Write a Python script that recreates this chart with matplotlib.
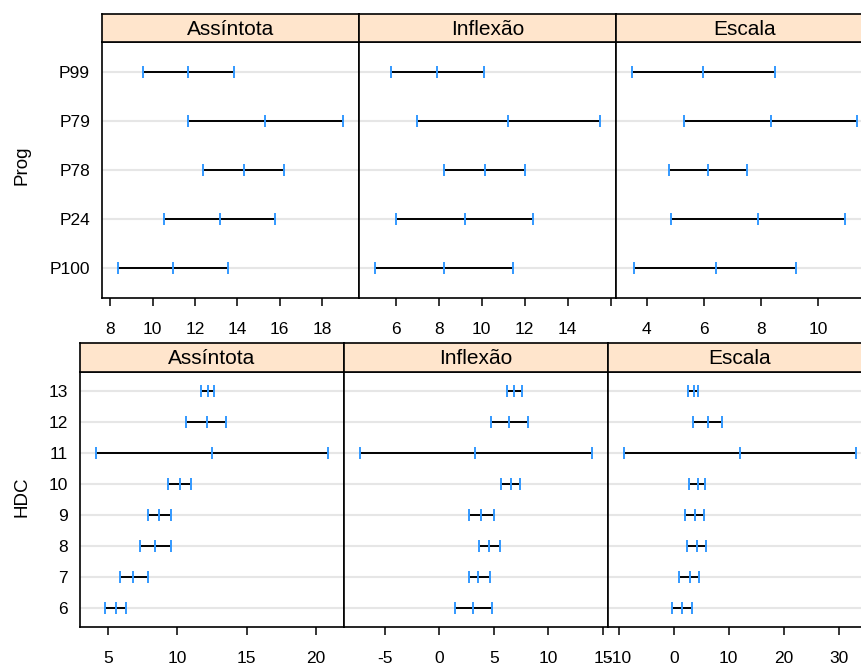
import matplotlib
matplotlib.use("Agg")
import matplotlib.pyplot as plt

plt.rcParams["font.family"] = ["Liberation Sans", "DejaVu Sans"]
plt.rcParams["axes.unicode_minus"] = False

# ---- data -------------------------------------------------------------
params = ["Assíntota", "Inflexão", "Escala"]

# Prog levels, bottom to top
prog_levels = ["P100", "P24", "P78", "P79", "P99"]
prog_asym_lo = [8.36, 10.53, 12.37, 11.68, 9.54]
prog_asym_est = [10.96, 13.16, 14.29, 15.30, 11.68]
prog_asym_hi = [13.57, 15.77, 16.18, 18.99, 13.83]
prog_infl_lo = [5.03, 6.03, 8.24, 7.00, 5.77]
prog_infl_est = [8.24, 9.23, 10.14, 11.25, 7.93]
prog_infl_hi = [11.46, 12.37, 12.00, 15.52, 10.09]
prog_scal_lo = [3.56, 4.86, 4.78, 5.31, 3.47]
prog_scal_est = [6.41, 7.89, 6.15, 8.34, 5.95]
prog_scal_hi = [9.23, 10.93, 7.52, 11.37, 8.50]

# HDC levels, bottom to top
hdc_levels = ["6", "7", "8", "9", "10", "11", "12", "13"]
hdc_asym_lo = [4.76, 5.84, 7.30, 7.85, 9.32, 4.14, 10.59, 11.67]
hdc_asym_est = [5.57, 6.82, 8.41, 8.64, 10.16, 12.49, 12.10, 12.20]
hdc_asym_hi = [6.32, 7.85, 9.56, 9.56, 10.98, 20.84, 13.52, 12.63]
hdc_infl_lo = [1.43, 2.69, 3.63, 2.72, 5.65, -7.23, 4.79, 6.17]
hdc_infl_est = [3.08, 3.57, 4.61, 3.85, 6.56, 3.30, 6.44, 6.90]
hdc_infl_hi = [4.82, 4.64, 5.59, 5.04, 7.36, 13.98, 8.18, 7.63]
hdc_scal_lo = [-0.24, 1.03, 2.36, 2.07, 2.85, -9.00, 3.58, 2.54]
hdc_scal_est = [1.45, 2.90, 4.17, 3.88, 4.36, 12.05, 6.17, 3.63]
hdc_scal_hi = [3.34, 4.61, 5.93, 5.45, 5.75, 33.10, 8.84, 4.48]

# x tick values and labels per panel
prog_xticks = [[8, 10, 12, 14, 16, 18], [6, 8, 10, 12, 14, 16], [4, 6, 8, 10]]
prog_xticklabels = [["8", "10", "12", "14", "16", "18"],
                    ["6", "8", "10", "12", "14", ""],
                    ["4", "6", "8", "10"]]
hdc_xticks = [[5, 10, 15, 20], [-5, 0, 5, 10, 15], [-10, 0, 10, 20, 30]]
hdc_xticklabels = [["5", "10", "15", "20"],
                   ["-5", "0", "5", "10", "15"],
                   ["-10", "0", "10", "20", "30"]]

# ---- figure -----------------------------------------------------------
W, H = 861, 668
DPI = 100
fig = plt.figure(figsize=(W / DPI, H / DPI), dpi=DPI)
fig.patch.set_facecolor("white")

BLUE = "#3399ff"
GRID = "#e6e6e6"
STRIP = "#ffe5cc"
FRAME_LW = 1.2
TICK_FS = 12.5
STRIP_FS = 15
LABEL_FS = 13.5


def px_axes(x0, y0, x1, y1):
    return fig.add_axes([x0 / W, 1 - y1 / H, (x1 - x0) / W, (y1 - y0) / H])


def draw_row(levels, series, xticks, xticklabels, lefts, y_strip, y_top, y_bot,
             ylabel, ylabel_y):
    ypos = list(range(1, len(levels) + 1))
    for k, (lo, est, hi) in enumerate(series):
        x0, x1 = lefts[k], lefts[k + 1]
        ax = px_axes(x0, y_top, x1, y_bot)
        for y in ypos:
            ax.axhline(y, color=GRID, lw=1.5, zorder=0)
        ax.hlines(ypos, lo, hi, color="black", lw=1.4, zorder=2)
        for vals in (lo, est, hi):
            ax.plot(vals, ypos, ls="none", marker="|", ms=9, mew=1.4,
                    color=BLUE, zorder=3)
        vmin, vmax = min(lo), max(hi)
        pad = 0.07 * (vmax - vmin)
        ax.set_xlim(vmin - pad, vmax + pad)
        ax.set_ylim(0.4, len(levels) + 0.6)
        ax.set_xticks(xticks[k])
        ax.set_xticklabels(xticklabels[k])
        ax.tick_params(axis="x", direction="out", length=6, width=1.1,
                       labelsize=TICK_FS, pad=11.5, colors="black")
        if k == 0:
            ax.set_yticks(ypos)
            ax.set_yticklabels(levels)
            ax.tick_params(axis="y", length=0, labelsize=TICK_FS, pad=8.6)
        else:
            ax.set_yticks([])
        for sp in ax.spines.values():
            sp.set_linewidth(FRAME_LW)
            sp.set_color("black")

        sax = px_axes(x0, y_strip, x1, y_top)
        sax.set_facecolor(STRIP)
        sax.set_xticks([])
        sax.set_yticks([])
        for sp in sax.spines.values():
            sp.set_linewidth(FRAME_LW)
            sp.set_color("black")
        sax.text(0.5, 0.45, params[k], ha="center", va="center",
                 fontsize=STRIP_FS, transform=sax.transAxes)

    fig.text(22 / W, 1 - ylabel_y / H, ylabel, rotation=90, ha="center",
             va="center", fontsize=LABEL_FS)


draw_row(prog_levels,
         [(prog_asym_lo, prog_asym_est, prog_asym_hi),
          (prog_infl_lo, prog_infl_est, prog_infl_hi),
          (prog_scal_lo, prog_scal_est, prog_scal_hi)],
         prog_xticks, prog_xticklabels,
         [102, 359, 616, 873], 14, 42, 298, "Prog", 165)

draw_row(hdc_levels,
         [(hdc_asym_lo, hdc_asym_est, hdc_asym_hi),
          (hdc_infl_lo, hdc_infl_est, hdc_infl_hi),
          (hdc_scal_lo, hdc_scal_est, hdc_scal_hi)],
         hdc_xticks, hdc_xticklabels,
         [80, 344, 608, 872], 343, 372, 627, "HDC", 497)

fig.savefig("out.png", dpi=DPI)
